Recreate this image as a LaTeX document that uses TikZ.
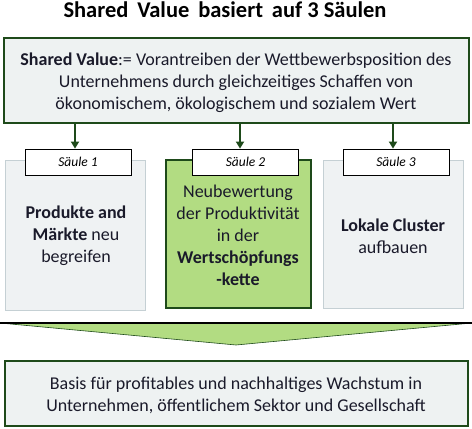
\documentclass[tikz,border=0pt]{standalone}
\usepackage{fontspec}
\setmainfont{Carlito}
\usetikzlibrary{arrows.meta}
\definecolor{dgreen}{HTML}{1E4A1A}
\definecolor{lgreen}{HTML}{B2DC82}
\definecolor{boxgray}{HTML}{EEF2F2}
\definecolor{pillgray}{HTML}{EFF2F3}
\definecolor{pillborder}{HTML}{C5D0D4}
\definecolor{txt}{HTML}{1A1A2A}
\tikzset{
  mainbox/.style={draw=dgreen, line width=2pt, fill=boxgray},
  pillbox/.style={draw=pillborder, line width=0.8pt, fill=pillgray},
  greenbox/.style={draw=dgreen, line width=2pt, fill=lgreen},
  labelbox/.style={draw=black, line width=0.8pt, fill=white, minimum width=106pt, minimum height=26pt, inner sep=0pt, font=\fontsize{13.5}{15}\selectfont\itshape},
  bodytext/.style={align=center, text=txt, font=\fontsize{18}{22}\selectfont, inner sep=0pt},
  arr/.style={draw=dgreen, line width=2pt, -{Triangle[width=8pt,length=7pt]}},
}
\begin{document}
\begin{tikzpicture}[x=1pt,y=-1pt]
\useasboundingbox (0,0) rectangle (472,429);
% title
\node[font=\fontsize{22.5}{26}\selectfont\bfseries, text=black] (title) at (225,9.5) {Shared\ \,Value\ \,basiert\ \,auf 3 Säulen};
% top box
\draw[mainbox] (4,38) rectangle (469,123);
\node[bodytext] (top) at (236,82.5) {\textbf{Shared Value}:= Vorantreiben der Wettbewerbsposition des\\Unternehmens durch gleichzeitiges Schaffen von\\ökonomischem, ökologischem und sozialem Wert};
\coordinate (topS) at (236,124);
% pillars
\draw[pillbox] (5,160) rectangle (145,310);
\draw[greenbox] (166,160) rectangle (311,308);
\draw[pillbox] (323,160) rectangle (463,308);
\node[bodytext] (p1) at (76,236) {\textbf{Produkte and}\\\textbf{Märkte} neu\\begreifen};
\node[bodytext] (p2) at (238,235) {Neubewertung\\der Produktivität\\in der\\\textbf{Wertschöpfungs}\\\textbf{-kette}};
\node[bodytext] (p3) at (393,236) {\textbf{Lokale Cluster}\\aufbauen};
% labels
\node[labelbox] (l1) at (78,162) {Säule 1};
\node[labelbox] (l2) at (245.5,162) {Säule 2};
\node[labelbox] (l3) at (396,162) {Säule 3};
% arrows
\draw[arr] (topS -| 75,0) -- ([xshift=-3pt]l1.north);
\draw[arr] (topS -| 240,0) -- ([xshift=-5.5pt]l2.north);
\draw[arr] (topS -| 393,0) -- ([xshift=-3pt]l3.north);
% chevron
\fill[lgreen] (0,323) -- (472,323) -- (236,345) -- cycle;
\draw[dgreen, line width=0.6pt] (0,323) -- (236,345) -- (472,323);
\draw[black, line width=1.5pt] (0,323) -- (472,323);
% bottom box
\draw[mainbox] (5,361) rectangle (468,426);
\node[bodytext] (bot) at (236,395) {Basis für profitables und nachhaltiges Wachstum in\\Unternehmen, öffentlichem Sektor und Gesellschaft};
\end{tikzpicture}
\end{document}
